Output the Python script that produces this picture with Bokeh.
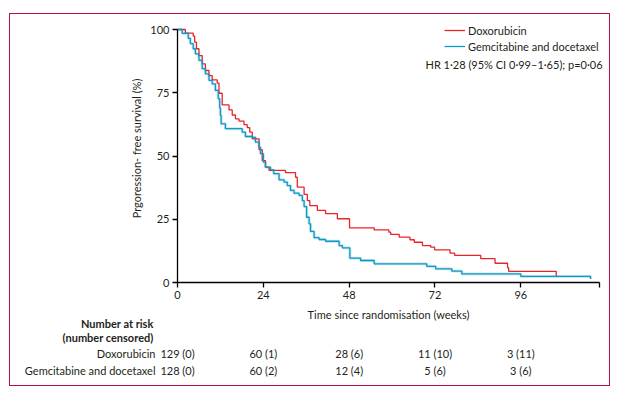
from bokeh.plotting import figure
from bokeh.models import (Range1d, FixedTicker, Legend, LegendItem, Label, ColumnDataSource)
from bokeh.layouts import column
from bokeh.core.properties import value
from bokeh.embed import file_html
from bokeh.resources import INLINE

# ---- data ----
dox_t = [0, 2.2, 4.4, 4.8, 5.3, 6.0, 6.9, 7.8, 8.8, 9.7, 11.1, 11.6, 12.5, 14.4, 15.3, 16.2,
         17.2, 18.6, 19.5, 20.2, 20.9, 22.8, 23.7, 24.6, 25.6, 30.2, 33.0, 33.5, 35.4, 36.3,
         37.0, 39.1, 41.4, 44.7, 48.1, 55.0, 59.1, 59.6, 62.0, 65.0, 66.2, 68.5, 70.8, 71.9,
         76.2, 77.5, 84.8, 88.8, 92.3, 92.6, 105.9]
dox_s = [100, 98.6, 97.4, 95.0, 92.4, 89.7, 86.4, 83.8, 81.8, 80.1, 78.8, 74.8, 70.2, 68.2,
         66.2, 64.7, 63.8, 62.4, 61.2, 59.4, 56.8, 52.5, 48.2, 45.6, 44.3, 43.4, 41.6, 37.7,
         34.8, 32.4, 30.4, 28.5, 27.2, 25.2, 21.6, 20.8, 19.9, 19.0, 17.9, 16.9, 15.9, 14.6,
         14.0, 12.9, 11.6, 10.7, 9.4, 7.6, 5.8, 4.4, 2.4]

gem_t = [0, 1.3, 3.0, 3.6, 4.4, 5.0, 6.0, 6.9, 7.8, 8.8, 9.7, 10.6, 11.4, 11.8, 12.0, 12.2,
         13.4, 18.1, 19.0, 20.9, 21.8, 22.8, 23.2, 24.0, 24.6, 26.0, 26.9, 28.4, 29.8, 30.7,
         31.6, 32.6, 34.0, 34.9, 35.4, 36.1, 36.8, 37.2, 38.2, 39.6, 41.4, 45.2, 46.1, 48.2,
         51.2, 55.0, 69.7, 72.2, 76.7, 79.5, 96.0, 115.5]
gem_s = [100, 98.5, 96.5, 94.4, 92.4, 90.4, 87.8, 84.5, 82.5, 79.9, 78.5, 75.9, 72.6, 69.0,
         66.0, 62.7, 60.8, 59.4, 57.7, 57.4, 55.5, 53.5, 50.9, 47.6, 45.6, 44.5, 43.0, 40.6,
         39.7, 38.3, 36.4, 35.3, 34.4, 32.4, 30.0, 25.8, 23.2, 20.2, 17.7, 17.0, 16.3, 14.6,
         13.7, 9.6, 8.7, 7.4, 6.4, 5.4, 4.5, 3.4, 2.4, 1.4]

x_ticks = [0, 24, 48, 72, 96]
y_ticks = [0, 25, 50, 75, 100]
arms = ["Doxorubicin", "Gemcitabine and docetaxel"]
risk_dox = ["129 (0)", "60 (1)", "28 (6)", "11 (10)", "3 (11)"]
risk_gem = ["128 (0)", "60 (2)", "12 (4)", "5 (6)", "3 (6)"]
risk_title = ["Number at risk", "(number censored)"]
x_title = "Time since randomisation (weeks)"
y_title = "Prgoression- free survival (%)"
hr_text = "HR 1·28 (95% CI 0·99–1·65); p=0·06"

XMAX = 118
RED = "#e8242b"
BLUE = "#0a9cc6"
HALO = "#a9d3e4"
TXT = "#231f20"
FRAME = "#b5123e"
FONT = "Lato"
FS = "11px"

# page-pixel geometry
BL, BT, BR, BB = 9, 13, 610, 386          # crimson frame (outer)
IL, IT = BL + 1, BT + 1                   # content origin inside the 1px border
W = BR - BL - 2                           # content width
H = BB - BT - 2                           # content height
PX0, PX1, PY0, PY1 = 177, 599, 282, 29    # axes: x=0, x=XMAX, y=0, y=100
SPLIT = 304                               # page y where table figure starts


def xd(px):
    return (px - PX0) / (PX1 - PX0) * XMAX


def yd(py):
    return (PY0 - py) / (PY0 - PY1) * 100


# ---------------- chart ----------------
hA = SPLIT - IT
p = figure(width=W, height=hA, output_backend="svg", toolbar_location=None,
           x_range=Range1d(0, xd(IL + W)), y_range=Range1d(0, yd(IT)),
           min_border_left=PX0 - IL, min_border_right=0,
           min_border_top=0, min_border_bottom=SPLIT - PY0)
p.frame_align = False
p.outline_line_color = None
p.grid.visible = False
p.border_fill_color = "white"

p.step(gem_t, gem_s, mode="after", line_color=HALO, line_width=3, line_alpha=0.6)
r_dox = p.step(dox_t, dox_s, mode="after", line_color=RED, line_width=1.3)
r_gem = p.step(gem_t, gem_s, mode="after", line_color=BLUE, line_width=1.3)

for ax in (p.xaxis[0], p.yaxis[0]):
    ax.axis_line_color = "black"
    ax.axis_line_width = 1.3
    ax.major_tick_line_color = "black"
    ax.major_tick_line_width = 1.3
    ax.major_tick_out = 5
    ax.major_tick_in = 0
    ax.minor_tick_line_color = None
    ax.major_label_text_font = FONT
    ax.major_label_text_font_size = FS
    ax.major_label_text_color = TXT
    ax.axis_label_text_font = FONT
    ax.axis_label_text_font_size = FS
    ax.axis_label_text_font_style = "normal"
    ax.axis_label_text_color = TXT

p.xaxis.bounds = (0, XMAX)
p.xaxis.ticker = FixedTicker(ticks=x_ticks + [XMAX])
p.xaxis.major_label_overrides = {XMAX: ""}
p.xaxis.major_label_standoff = 3

p.yaxis.bounds = (0, 100)
p.yaxis.ticker = FixedTicker(ticks=y_ticks)
p.yaxis.major_label_standoff = 3
p.yaxis.axis_label = y_title
p.yaxis.axis_label_standoff = 4

legend = Legend(items=[LegendItem(label=arms[0], renderers=[r_dox]),
                       LegendItem(label=arms[1], renderers=[r_gem])],
                location=(444 - PX0, PY0 - 54), padding=0, margin=0, spacing=0,
                glyph_width=21, glyph_height=16, label_height=16, label_standoff=3,
                label_text_font=FONT, label_text_font_size=FS, label_text_color=TXT,
                background_fill_alpha=0, border_line_color=None)
p.add_layout(legend, "center")

p.add_layout(Label(x=xd(425), y=yd(64), text=hr_text, text_font=FONT, text_font_size=FS,
                   text_color=TXT, text_baseline="middle", text_align="left"))

# ---------------- number-at-risk table ----------------
hB = IT + H - SPLIT
t = figure(width=W, height=hB, output_backend="svg", toolbar_location=None,
           x_axis_location=None, y_axis_location=None,
           x_range=Range1d(xd(IL), xd(IL + W)), y_range=Range1d(hB, 0),
           min_border=0)
t.frame_align = False
t.grid.visible = False
t.outline_line_color = None
t.border_fill_color = "white"

common = dict(text_font=value(FONT), text_font_size=value(FS), text_color=TXT,
              text_baseline="middle")

# axis title (centred under the x axis)
t.text(x=[XMAX / 2], y=[314 - SPLIT], text=[x_title], text_align="center", **common)
# headings
t.text(x=[xd(153)] * 2, y=[323 - SPLIT, 337 - SPLIT], text=risk_title,
       text_align="right", text_font_style="bold", **common)
row_y = [353 - SPLIT, 370 - SPLIT]
t.text(x=[xd(155)] * 2, y=row_y, text=arms, text_align="right", **common)
src = ColumnDataSource(dict(x=x_ticks * 2, y=[row_y[0]] * 5 + [row_y[1]] * 5,
                            text=risk_dox + risk_gem))
t.text(x="x", y="y", text="text", source=src, text_align="center", **common)

lay = column(p, t, spacing=0, margin=(BT, 0, 0, BL),
             styles={"border": "1px solid " + FRAME})

open("out.html", "w").write(file_html(lay, INLINE))
